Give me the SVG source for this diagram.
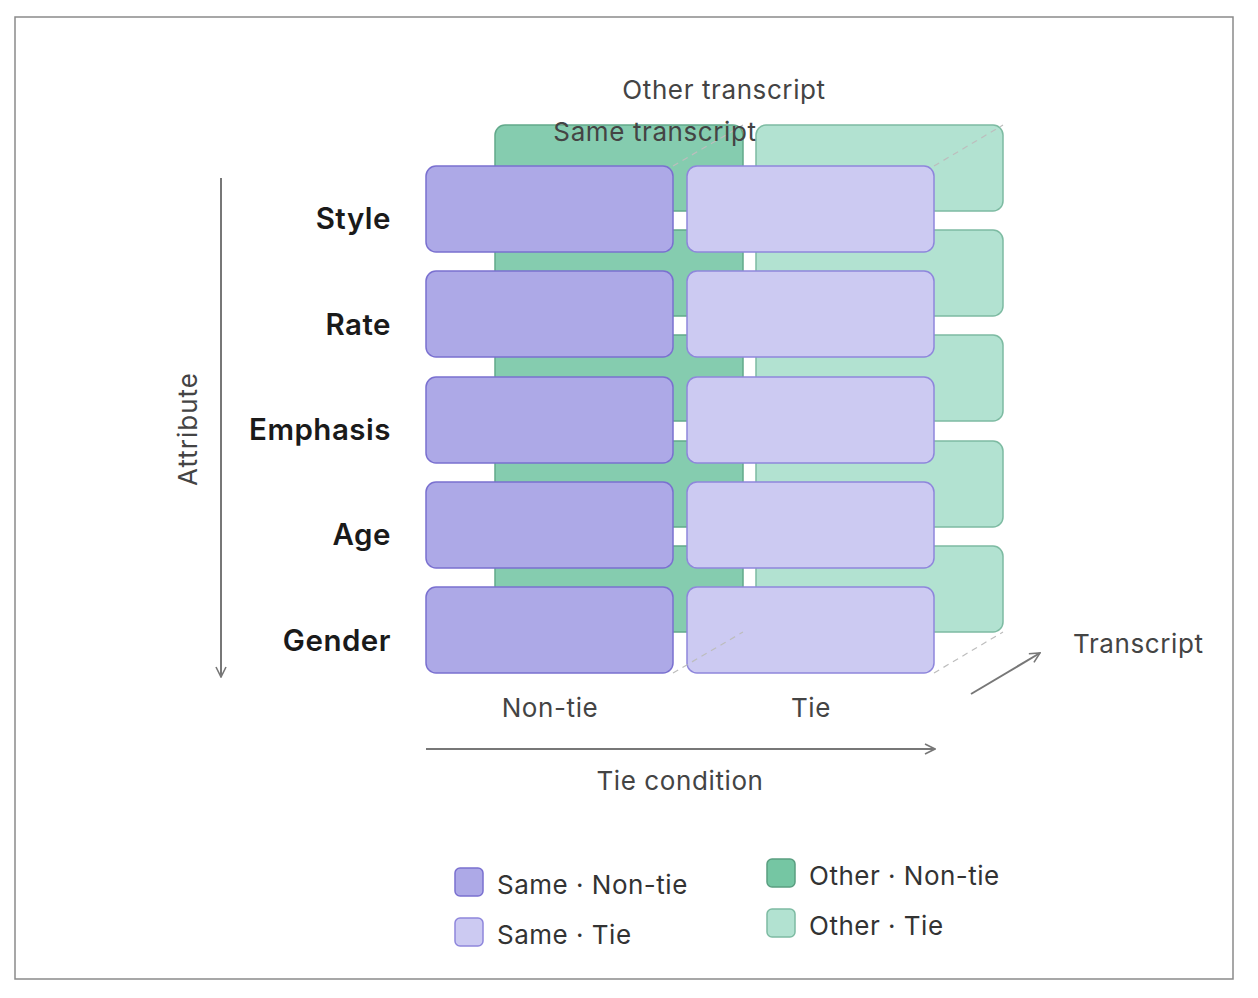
<svg xmlns="http://www.w3.org/2000/svg" width="1258" height="998" viewBox="0 0 1258 998">
<defs>
<style>
.t{font-family:Inter,"Liberation Sans",sans-serif;}
.ax{font-size:26px;fill:#444;letter-spacing:0.6px;}
.attr{font-size:29.5px;font-weight:600;fill:#1a1a1a;text-anchor:end;letter-spacing:0.5px;}
.leg{font-size:26px;fill:#333;letter-spacing:0.5px;}
.bk1{fill:#85CCAF;stroke:#62A98B;stroke-width:1.5;}
.bk2{fill:#B2E2D1;stroke:#7DBBA2;stroke-width:1.5;}
.fr1{fill:#ADA9E7;stroke:#7A70D0;stroke-width:1.5;}
.fr2{fill:#CCCAF2;stroke:#8E86DC;stroke-width:1.5;}
.dash{stroke:#BDBDBD;stroke-width:1.2;stroke-dasharray:6 5;fill:none;}
.arr{stroke:#777;stroke-width:2;fill:none;}
</style>
<marker id="ah" viewBox="0 0 12 12" refX="11" refY="6" markerWidth="12" markerHeight="12" markerUnits="userSpaceOnUse" orient="auto">
<path d="M1,1 L11,6 L1,11" fill="none" stroke="#777" stroke-width="1.6"/>
</marker>
</defs>
<rect x="0" y="0" width="1258" height="998" fill="#fff"/>
<rect x="15" y="17" width="1218" height="962" fill="#fff" stroke="#8a8a8a" stroke-width="1.5"/>

<g id="back-layer">
<rect class="bk1" x="495" y="125" width="248" height="86" rx="10"/>
<rect class="bk1" x="495" y="230" width="248" height="86" rx="10"/>
<rect class="bk1" x="495" y="335" width="248" height="86" rx="10"/>
<rect class="bk1" x="495" y="441" width="248" height="86" rx="10"/>
<rect class="bk1" x="495" y="546" width="248" height="86" rx="10"/>
<rect class="bk2" x="756" y="125" width="247" height="86" rx="10"/>
<rect class="bk2" x="756" y="230" width="247" height="86" rx="10"/>
<rect class="bk2" x="756" y="335" width="247" height="86" rx="10"/>
<rect class="bk2" x="756" y="441" width="247" height="86" rx="10"/>
<rect class="bk2" x="756" y="546" width="247" height="86" rx="10"/>
</g>

<g id="row-style">
<text class="t attr" x="391" y="229">Style</text>
<rect class="fr1" x="426" y="166" width="247" height="86" rx="10"/>
<rect class="fr2" x="687" y="166" width="247" height="86" rx="10"/>
</g>
<g id="row-rate">
<text class="t attr" x="391" y="335">Rate</text>
<rect class="fr1" x="426" y="271" width="247" height="86" rx="10"/>
<rect class="fr2" x="687" y="271" width="247" height="86" rx="10"/>
</g>
<g id="row-emphasis">
<text class="t attr" x="391" y="440">Emphasis</text>
<rect class="fr1" x="426" y="377" width="247" height="86" rx="10"/>
<rect class="fr2" x="687" y="377" width="247" height="86" rx="10"/>
</g>
<g id="row-age">
<text class="t attr" x="391" y="545">Age</text>
<rect class="fr1" x="426" y="482" width="247" height="86" rx="10"/>
<rect class="fr2" x="687" y="482" width="247" height="86" rx="10"/>
</g>
<g id="row-gender">
<text class="t attr" x="391" y="651">Gender</text>
<rect class="fr1" x="426" y="587" width="247" height="86" rx="10"/>
<rect class="fr2" x="687" y="587" width="247" height="86" rx="10"/>
</g>

<g id="connectors">
<line class="dash" x1="673" y1="166" x2="743" y2="125"/>
<line class="dash" x1="934" y1="166" x2="1003" y2="125"/>
<line class="dash" x1="673" y1="673" x2="743" y2="632"/>
<line class="dash" x1="934" y1="673" x2="1003" y2="632"/>
<line class="arr" x1="221" y1="178" x2="221" y2="677" marker-end="url(#ah)"/>
<line class="arr" x1="426" y1="749" x2="935" y2="749" marker-end="url(#ah)"/>
<line class="arr" x1="971" y1="694" x2="1040" y2="653" marker-end="url(#ah)"/>
</g>

<g id="axis-labels">
<text class="t ax" x="724" y="99" text-anchor="middle">Other transcript</text>
<text class="t ax" x="655" y="141" text-anchor="middle">Same transcript</text>
<text class="t ax" x="550" y="717" text-anchor="middle">Non-tie</text>
<text class="t ax" x="811" y="717" text-anchor="middle">Tie</text>
<text class="t ax" x="680" y="790" text-anchor="middle">Tie condition</text>
<text class="t ax" x="1073" y="653">Transcript</text>
<text class="t ax" x="0" y="0" text-anchor="middle" style="letter-spacing:1px" transform="translate(197,429) rotate(-90)">Attribute</text>
</g>

<g id="legend">
<rect x="455" y="868" width="28" height="28" rx="5" fill="#ADA9E7" stroke="#7A70D0" stroke-width="1.5"/>
<text class="t leg" x="497" y="894">Same · Non-tie</text>
<rect x="455" y="918" width="28" height="28" rx="5" fill="#CCCAF2" stroke="#8E86DC" stroke-width="1.5"/>
<text class="t leg" x="497" y="944">Same · Tie</text>
<rect x="767" y="859" width="28" height="28" rx="5" fill="#75C6A3" stroke="#5A9E80" stroke-width="1.5"/>
<text class="t leg" x="809" y="885">Other · Non-tie</text>
<rect x="767" y="909" width="28" height="28" rx="5" fill="#B2E2D1" stroke="#7DBBA2" stroke-width="1.5"/>
<text class="t leg" x="809" y="935">Other · Tie</text>
</g>
</svg>
